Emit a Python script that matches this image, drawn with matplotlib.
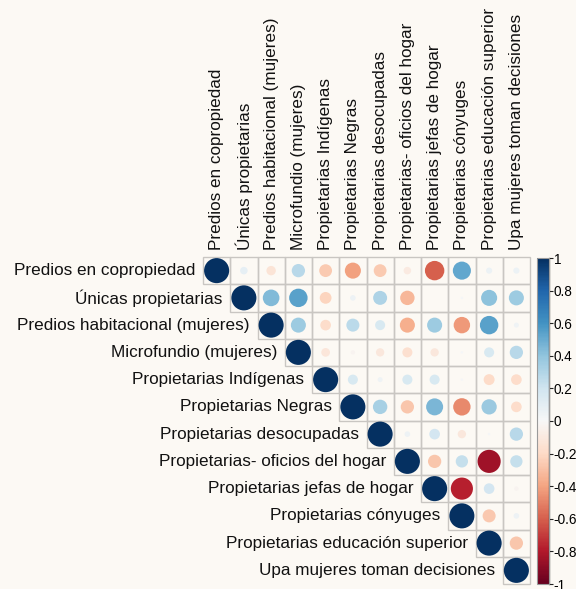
import numpy as np
import matplotlib as mpl
mpl.use('Agg')
import matplotlib.pyplot as plt
from matplotlib.patches import Circle, Rectangle

plt.rcParams['font.family'] = ['Liberation Sans', 'DejaVu Sans']

labels = ['Predios en copropiedad', 'Únicas propietarias', 'Predios habitacional (mujeres)',
          'Microfundio (mujeres)', 'Propietarias Indígenas', 'Propietarias Negras',
          'Propietarias desocupadas', 'Propietarias- oficios del hogar',
          'Propietarias jefas de hogar', 'Propietarias cónyuges',
          'Propietarias educación superior', 'Upa mujeres toman decisiones']

# upper triangle, row by row (values right of the diagonal)
r0 = [0.09, -0.14, 0.28, -0.26, -0.41, -0.26, -0.09, -0.60, 0.52, 0.06, 0.06]
r1 = [0.44, 0.54, -0.22, 0.05, 0.31, -0.33, 0.00, 0.01, 0.41, 0.36]
r2 = [0.36, -0.18, 0.27, 0.16, -0.36, 0.36, -0.43, 0.54, 0.04]
r3 = [-0.12, -0.03, -0.11, -0.16, -0.11, 0.01, 0.16, 0.28]
r4 = [0.16, 0.04, 0.16, 0.16, 0.01, -0.19, -0.18]
r5 = [0.33, -0.28, 0.46, -0.48, 0.37, -0.18]
r6 = [0.05, 0.18, -0.11, 0.01, 0.28]
r7 = [-0.28, 0.24, -0.85, 0.24]
r8 = [-0.78, 0.18, -0.03]
r9 = [-0.27, 0.05]
r10 = [-0.28]
upper = [r0, r1, r2, r3, r4, r5, r6, r7, r8, r9, r10, []]

cbar_ticks = [-1, -0.8, -0.6, -0.4, -0.2, 0, 0.2, 0.4, 0.6, 0.8, 1]
cbar_labels = ['-1', '-0.8', '-0.6', '-0.4', '-0.2', '0', '0.2', '0.4', '0.6', '0.8', '1']

n = len(labels)
corr = np.eye(n)
for i, row in enumerate(upper):
    for k, v in enumerate(row):
        corr[i, i + 1 + k] = v
        corr[i + 1 + k, i] = v

bg = '#fcf9f4'
W, H = 576, 589
fig = plt.figure(figsize=(W / 100, H / 100), dpi=100, facecolor=bg)
ax = fig.add_axes([203 / W, 5 / H, 327 / W, 327 / H])
ax.set_facecolor('none')
ax.set_xlim(0, n)
ax.set_ylim(n, 0)
ax.set_aspect('equal')
ax.axis('off')

cmap = plt.get_cmap('RdBu')
norm = mpl.colors.Normalize(-1, 1)

for i in range(n):
    for j in range(i, n):
        ax.add_patch(Rectangle((j, i), 1, 1, facecolor='none', edgecolor='#c9c6c2',
                               linewidth=1.0, clip_on=False))
for i in range(n):
    for j in range(i, n):
        v = corr[i, j]
        rad = 0.46 * np.sqrt(abs(v))
        if rad > 0:
            ax.add_patch(Circle((j + 0.5, i + 0.5), rad, facecolor=cmap(norm(v)),
                                edgecolor='none', clip_on=False))

for i, lab in enumerate(labels):
    ax.text(i - 0.28, i + 0.5, lab, ha='right', va='center', fontsize=12.3, color='#111111')
    ax.text(i + 0.5, -0.25, lab, ha='center', va='bottom', rotation=90,
            fontsize=12.3, color='#111111')

cax = fig.add_axes([537 / W, 5 / H, 12 / W, 326 / H])
sm = mpl.cm.ScalarMappable(norm=norm, cmap=cmap)
cb = fig.colorbar(sm, cax=cax, ticks=cbar_ticks)
cb.ax.set_yticklabels(cbar_labels)
cb.ax.tick_params(labelsize=9.8, length=3, width=0.8, color='#222222', pad=0.5)
cb.outline.set_edgecolor('#9a9a9a')
cb.outline.set_linewidth(0.8)
cax.axvline(1, color='#222222', linewidth=0.9, clip_on=False)

fig.savefig('out.png', dpi=100, facecolor=bg)
plt.close()
